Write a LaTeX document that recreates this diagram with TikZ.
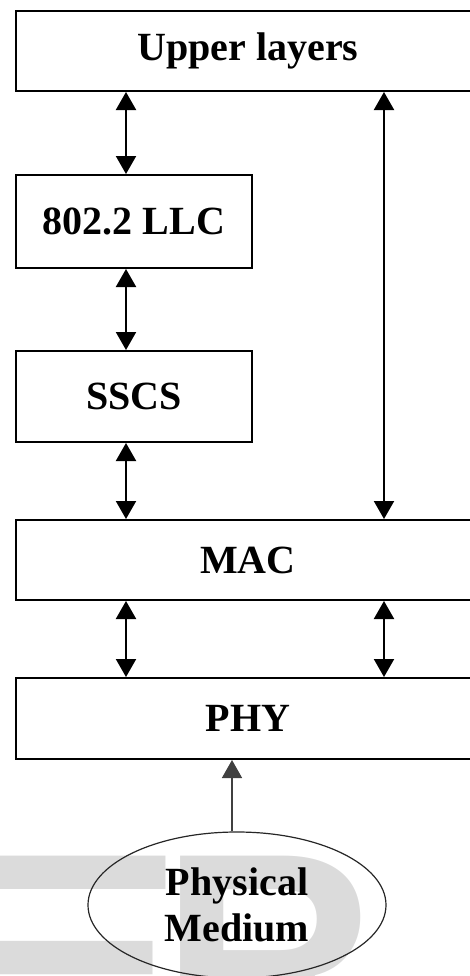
\documentclass[tikz,border=0pt]{standalone}
\usepackage{fontspec}
\setmainfont{Liberation Serif}
\newfontfamily\wmfont{Liberation Sans}
\usetikzlibrary{arrows.meta,shapes.geometric}

\begin{document}
\begin{tikzpicture}[x=0.5pt,y=-0.5pt,
layerbox/.style={draw,line width=1pt,rectangle,inner sep=0pt,font=\fontsize{20}{24}\selectfont\bfseries},
dblarrow/.style={line width=1pt,{Triangle[length=9pt,width=10pt]}-{Triangle[length=9pt,width=10pt]}},
uparrow/.style={line width=0.8pt,black!75,-{Triangle[length=9pt,width=10pt]}},
markletter/.style={anchor=base west,inner sep=0pt,text=black!14,font=\wmfont\fontsize{150}{150}\selectfont\bfseries}]
\path[use as bounding box,clip](0,0)rectangle(470,976);
\node[markletter](markE)at(-99,1062){\scalebox{1.45}[1]{E}};
\node[markletter](markR)at(160,1062){R};
\node[layerbox,minimum width=232pt,minimum height=40pt](upper)at(248,51){Upper layers};
\node[layerbox,minimum width=118pt,minimum height=46.5pt](llc)at(134,221.5){802.2 LLC};
\node[layerbox,minimum width=118pt,minimum height=45.5pt](sscs)at(134,396.5){SSCS};
\node[layerbox,minimum width=232pt,minimum height=40pt](mac)at(248,560){MAC};
\node[layerbox,minimum width=232pt,minimum height=40.5pt](phy)at(248,718.5){PHY};
\node[draw,ellipse,line width=0.6pt,black!85,text=black,inner sep=0pt,minimum width=149pt,minimum height=73pt,align=center,font=\fontsize{20}{23}\selectfont\bfseries](medium)at(237,905){Physical\\Medium};
\coordinate(lx)at(126,0);
\coordinate(rx)at(384,0);
\coordinate(px)at(232,0);
\draw[dblarrow](upper.south-|lx)--(llc.north-|lx);
\draw[dblarrow](llc.south-|lx)--(sscs.north-|lx);
\draw[dblarrow](sscs.south-|lx)--(mac.north-|lx);
\draw[dblarrow](upper.south-|rx)--(mac.north-|rx);
\draw[dblarrow](mac.south-|lx)--(phy.north-|lx);
\draw[dblarrow](mac.south-|rx)--(phy.north-|rx);
\draw[uparrow](medium.north-|px)--(phy.south-|px);
\end{tikzpicture}
\end{document}
